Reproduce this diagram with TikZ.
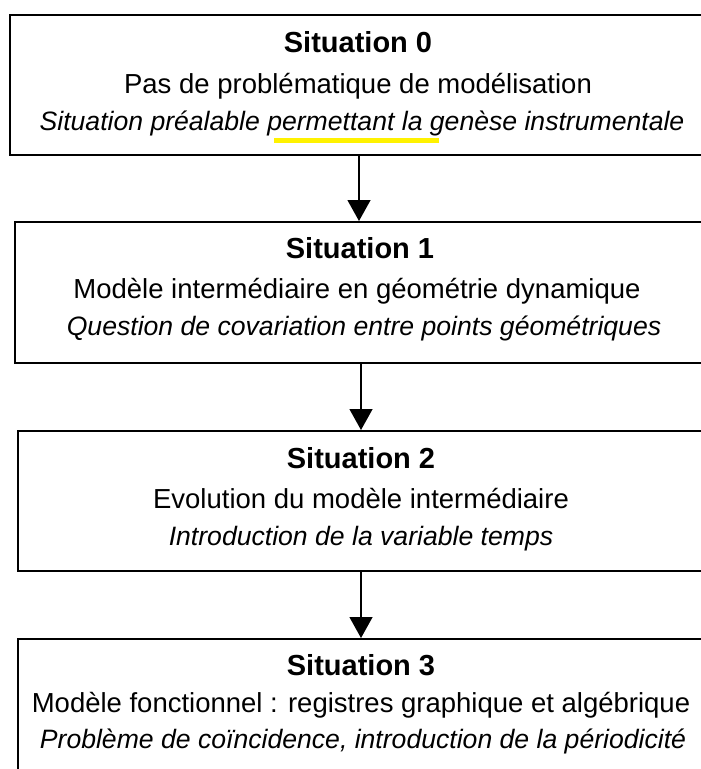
\documentclass[tikz,border=0pt]{standalone}
\usepackage{fontspec}
\setmainfont{Liberation Sans}
\usetikzlibrary{arrows.meta}
\tikzset{
  box/.style={draw=black, line width=1.6pt, rectangle, inner sep=0pt, anchor=north west},
  txt/.style={anchor=base, inner sep=0pt, font=\fontsize{27.5}{33}\selectfont},
  ttl/.style={txt, font=\fontsize{29}{34}\selectfont\bfseries},
  itl/.style={txt, font=\fontsize{26.6}{32}\selectfont\itshape},
  arr/.style={line width=1.3pt, -{Triangle[width=23pt,length=21pt]}},
  hl/.style={fill=yellow, draw=none}
}
\begin{document}
\begin{tikzpicture}[x=1pt,y=-1pt]
\useasboundingbox (0,0) rectangle (701,769);
\clip (0,0) rectangle (701,769);
% boxes
\node[box, minimum width=701pt, minimum height=140pt] (s0) at (9,14) {};
\node[box, minimum width=701pt, minimum height=141pt] (s1) at (14,221) {};
\node[box, minimum width=701pt, minimum height=140pt] (s2) at (17,430) {};
\node[box, minimum width=701pt, minimum height=150pt] (s3) at (17,638) {};
% highlight
\node[hl, minimum width=165pt, minimum height=5pt, inner sep=0pt, anchor=north west] (hl0) at (274,138) {};
% texts box 0
\node[ttl] (t0) at (358,52) {Situation 0};
\node[txt] (a0) at (358,93) {Pas de problématique de modélisation};
\node[itl] (b0) at (362,130) {Situation préalable permettant la genèse instrumentale};
% box 1
\node[ttl] (t1) at (360,258) {Situation 1};
\node[txt] (a1) at (357,298) {Modèle intermédiaire en géométrie dynamique};
\node[itl] (b1) at (364,335) {Question de covariation entre points géométriques};
% box 2
\node[ttl] (t2) at (361,468) {Situation 2};
\node[txt] (a2) at (361,508) {Evolution du modèle intermédiaire};
\node[itl] (b2) at (361,545) {Introduction de la variable temps};
% box 3
\node[ttl] (t3) at (361,675) {Situation 3};
\node[txt] (a3) at (361,712) {Modèle fonctionnel : registres graphique et algébrique};
\node[itl] (b3) at (363,748) {Problème de coïncidence, introduction de la périodicité};
% arrows
\coordinate (x0) at (359,0);
\coordinate (x1) at (361,0);
\draw[arr] (s0.south -| x0) -- (s1.north -| x0);
\draw[arr] (s1.south -| x1) -- (s2.north -| x1);
\draw[arr] (s2.south -| x1) -- (s3.north -| x1);
\end{tikzpicture}
\end{document}
